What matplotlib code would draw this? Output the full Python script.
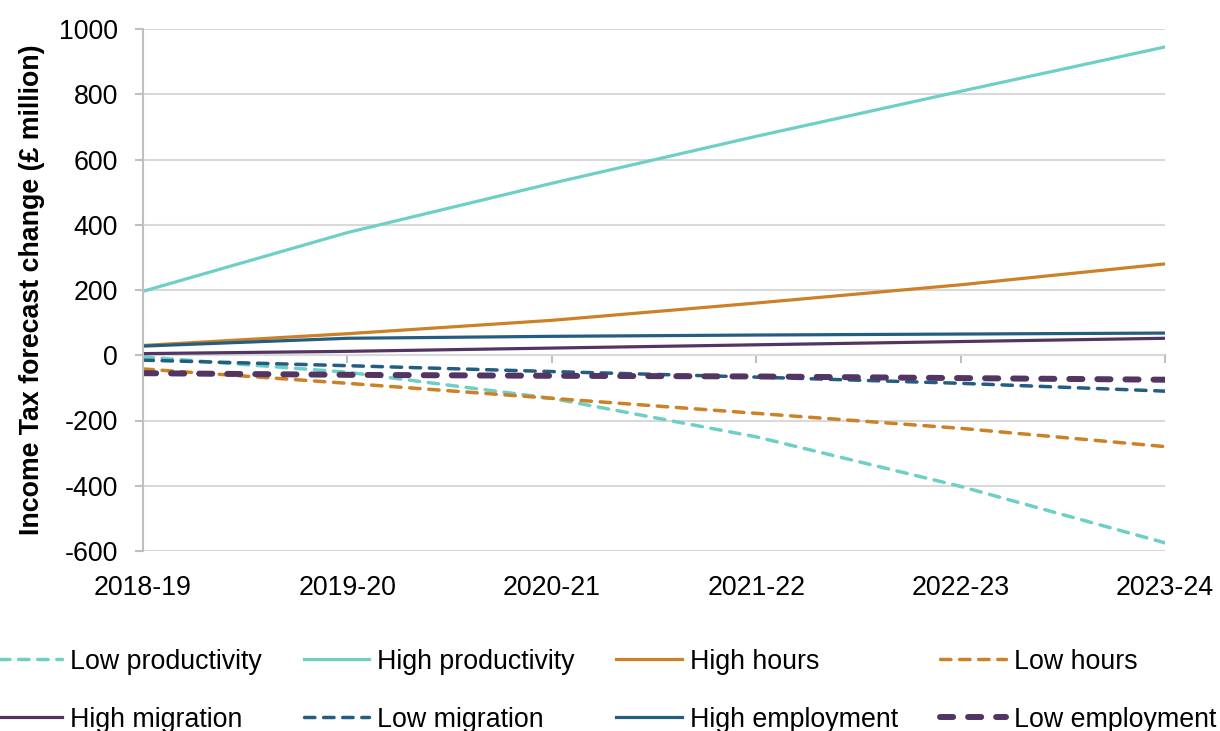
import matplotlib.pyplot as plt

plt.rcParams['font.family'] = ['Liberation Sans', 'DejaVu Sans']
plt.rcParams['axes.unicode_minus'] = False

years = ['2018-19', '2019-20', '2020-21', '2021-22', '2022-23', '2023-24']

low_productivity = [-5, -52, -132, -250, -402, -575]
high_productivity = [196, 376, 527, 671, 809, 945]
high_hours = [30, 66, 107, 160, 216, 280]
low_hours = [-42, -86, -132, -178, -224, -280]
high_migration = [5, 12, 22, 32, 42, 52]
low_migration = [-15, -32, -50, -67, -86, -110]
high_employment = [28, 52, 58, 62, 65, 68]
low_employment = [-55, -60, -63, -65, -70, -75]

teal = '#6DCFC5'
orange = '#CC8127'
navy = '#245D82'
purple = '#533563'
fs = 19.3

x = list(range(len(years)))

fig = plt.figure(figsize=(12.2, 7.31), dpi=100)
ax = fig.add_axes([143 / 1220, 1 - 551 / 731, (1165 - 143) / 1220, (551 - 29) / 731])

lw = 2.3
ld = dict(lw=2.5, dashes=(3.0, 2.5), dash_capstyle='round')
l_lp, = ax.plot(x, low_productivity, color=teal, **ld, label='Low productivity')
l_hp, = ax.plot(x, high_productivity, color=teal, lw=lw, label='High productivity')
l_hh, = ax.plot(x, high_hours, color=orange, lw=lw, label='High hours')
l_lh, = ax.plot(x, low_hours, color=orange, **ld, label='Low hours')
l_hm, = ax.plot(x, high_migration, color=purple, lw=lw, label='High migration')
l_lm, = ax.plot(x, low_migration, color=navy, **ld, label='Low migration')
l_he, = ax.plot(x, high_employment, color=navy, lw=lw, label='High employment')
l_le, = ax.plot(x, low_employment, color=purple, lw=4.3, dashes=(2.2, 2.5),
                dash_capstyle='round', label='Low employment')

ax.set_xlim(0, 5)
ax.set_ylim(-600, 1000)
ax.set_yticks(range(-600, 1001, 200))
ax.grid(axis='y', color='#D9D9D9', lw=1.5)
ax.set_axisbelow(True)
for s in ['top', 'right']:
    ax.spines[s].set_visible(False)
ax.spines['left'].set_color('#BFBFBF')
ax.spines['left'].set_linewidth(1.5)
ax.spines['bottom'].set_position(('data', 0))
ax.spines['bottom'].set_color('#BFBFBF')
ax.spines['bottom'].set_linewidth(1.5)
ax.spines['bottom'].set_zorder(0.5)
ax.set_xticks(x)
ax.tick_params(axis='x', direction='out', length=6, width=1.5, color='#BFBFBF', labelbottom=False)
ax.tick_params(axis='y', direction='out', length=6, width=1.5, color='#BFBFBF', labelsize=fs, pad=12)

sec = ax.secondary_xaxis('bottom')
sec.set_xticks(x, years)
sec.tick_params(length=0, labelsize=fs, pad=17)
sec.spines['bottom'].set_visible(False)

ax.set_ylabel('Income Tax forecast change (£ million)', fontsize=fs, fontweight='bold', labelpad=10)

# legend fills column by column, so order handles to match the row layout
handles = [l_lp, l_hm, l_hp, l_lm, l_hh, l_he, l_lh, l_le]
fig.legend(handles=handles, labels=[h.get_label() for h in handles], ncol=4,
           loc='lower center', bbox_to_anchor=(0.497, -0.017), frameon=False, fontsize=fs,
           handlelength=2.45, handletextpad=0.3, columnspacing=1.55, labelspacing=1.2,
           borderaxespad=0)

fig.savefig('out.png', dpi=100)
